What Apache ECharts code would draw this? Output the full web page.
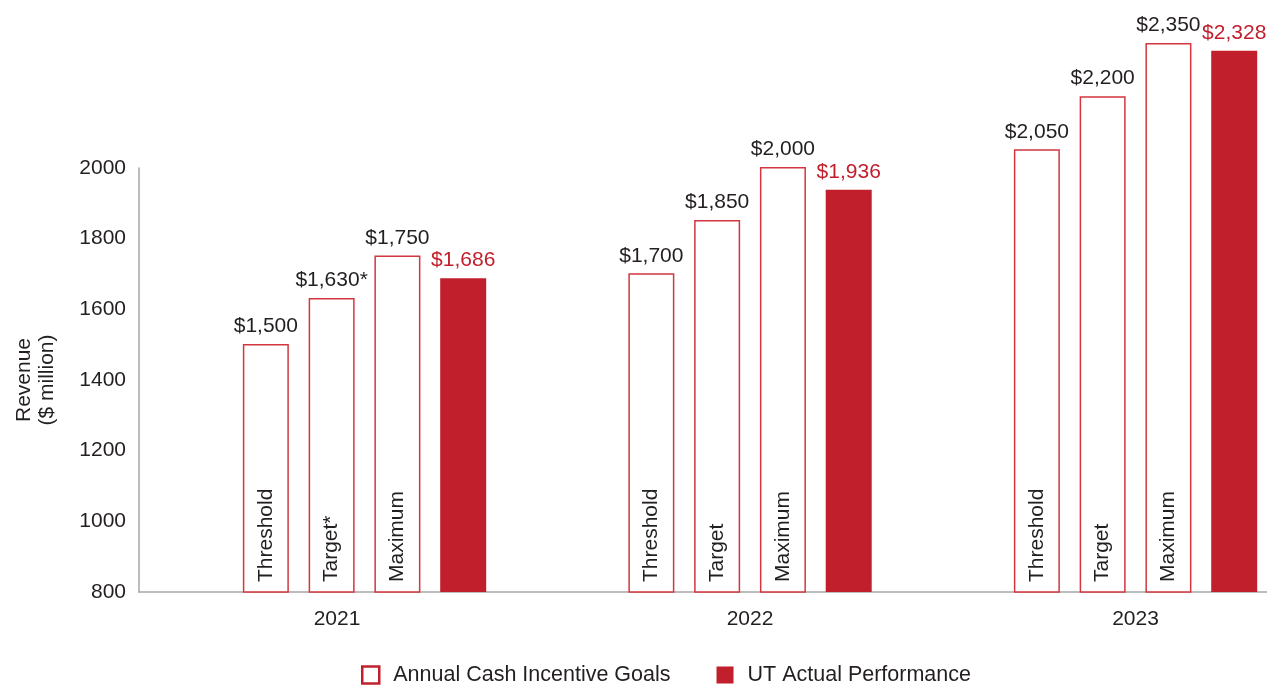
<!DOCTYPE html>
<html>
<head>
<meta charset="utf-8">
<script src="https://cdn.jsdelivr.net/npm/echarts@6/dist/echarts.min.js"></script>
<style>
  html, body { margin: 0; padding: 0; background: #fff; }
  #chart { width: 1267px; height: 685px; }
</style>
</head>
<body>
<div id="chart"></div>
<script>
window.addEventListener("load", () => {
    // data ($ million)
    const years = ['2021', '2022', '2023'];
    const thresholdVals = [1500, 1700, 2050];
    const targetVals = [1630, 1850, 2200];
    const maximumVals = [1750, 2000, 2350];
    const actualVals = [1686, 1936, 2328];
    const targetNotes = ['*', '', ''];          // footnote mark on 2021 target
    const goalNames = ['Threshold', 'Target', 'Maximum'];
    const goalsLegend = 'Annual Cash Incentive Goals';
    const actualLegend = 'UT Actual Performance';
    const yMin = 800, yMax = 2000, yStep = 200, yTop = 2350;

    const RED = '#c11f2b';
    const EDGE = '#d3363f';
    const INK = '#231f20';
    const AXIS = '#a6a6a6';
    const FONT = 'Liberation Sans, Arial, Helvetica, sans-serif';
    const FS = 21;

    // group positions: year i sits at x = i + 1; the x range leaves the
    // 2021 group offset from the y axis like in the source
    const xLo = 0.415, xHi = 3.341;

    const money = v => '$' + v.toLocaleString('en-US');
    const pairs = vals => vals.map((v, i) => [i + 1, v]);

    const barBase = { type: 'bar', barWidth: 46, barGap: '43%' };
    const goalSets = [thresholdVals, targetVals, maximumVals];

    // hollow goal bars with value on top
    let series = goalSets.map((vals, k) => Object.assign({}, barBase, {
        name: goalsLegend,
        xAxisIndex: 1, yAxisIndex: 1,
        data: pairs(vals),
        itemStyle: { color: '#fff', borderColor: EDGE, borderWidth: 1.5 },
        label: {
            show: true, position: 'top', distance: 7,
            fontFamily: FONT, fontSize: FS, color: INK,
            formatter: p => money(p.value[1]) + (k === 1 ? targetNotes[p.dataIndex] : '')
        }
    }));
    series.push(Object.assign({}, barBase, {
        name: actualLegend,
        xAxisIndex: 1, yAxisIndex: 1,
        data: pairs(actualVals),
        itemStyle: { color: RED },
        label: {
            show: true, position: 'top', distance: 7,
            fontFamily: FONT, fontSize: FS, color: RED,
            formatter: p => money(p.value[1])
        }
    }));

    // overlay on a twin axis: rotated names inside the goal bars
    goalSets.forEach((vals, k) => {
        series.push(Object.assign({}, barBase, {
            name: goalNames[k] + '_lbl',
            xAxisIndex: 2, yAxisIndex: 1,
            data: pairs(vals), silent: true,
            itemStyle: { color: 'rgba(0,0,0,0)' },
            label: {
                show: true, position: 'insideBottom', rotate: 90,
                align: 'left', verticalAlign: 'middle', distance: 10,
                fontFamily: FONT, fontSize: FS, color: INK,
                formatter: p => goalNames[k] + (k === 1 ? targetNotes[p.dataIndex] : '')
            }
        }));
    });
    series.push(Object.assign({}, barBase, {
        name: 'spacer', xAxisIndex: 2, yAxisIndex: 1,
        data: pairs(actualVals), silent: true,
        itemStyle: { color: 'rgba(0,0,0,0)' }
    }));

    let option = {
        animation: false,
        backgroundColor: '#fff',
        textStyle: { fontFamily: FONT },
        grid: [
            // visible axes: y only from 800 to 2000
            { left: 139, right: 0, top: 168, bottom: 93 },
            // bars: scale up to 2350
            { left: 139, right: 0, top: 43, bottom: 93 },
            // year labels, ticks on the group centres
            { left: 364.5, right: 131.5, top: 43, bottom: 93 }
        ],
        legend: {
            left: 361, top: 664, padding: 0,
            itemWidth: 17, itemHeight: 17, itemGap: 46,
            icon: 'rect',
            formatter: n => '{t|' + n + '}',
            textStyle: {
                fontFamily: FONT, fontSize: 21.5, color: INK,
                rich: { t: { fontFamily: FONT, fontSize: 21.5, color: INK, padding: [0, 0, 0, 9] } }
            },
            data: [
                { name: goalsLegend, itemStyle: { color: '#fff', borderColor: RED, borderWidth: 2.5 } },
                { name: actualLegend, itemStyle: { color: RED, borderWidth: 0 } }
            ]
        },
        xAxis: [
            {
                type: 'category', gridIndex: 0, data: years,
                axisLine: { lineStyle: { color: AXIS, width: 1.5 } },
                axisTick: { show: false }, axisLabel: { show: false }
            },
            { type: 'value', gridIndex: 1, min: xLo, max: xHi, show: false, splitLine: { show: false } },
            { type: 'value', gridIndex: 1, min: xLo, max: xHi, show: false, splitLine: { show: false } },
            {
                type: 'category', gridIndex: 2, data: years, boundaryGap: false,
                axisLine: { show: false }, axisTick: { show: false },
                axisLabel: {
                    margin: 17, fontFamily: FONT, fontSize: FS, color: INK,
                    formatter: (v, i) => i === 0 ? '{a|' + v + '}' : v,
                    rich: { a: { fontFamily: FONT, fontSize: FS, color: INK, padding: [0, 55, 0, 0] } }
                }
            }
        ],
        yAxis: [
            {
                type: 'value', gridIndex: 0,
                min: yMin, max: yMax, interval: yStep,
                name: 'Revenue\n($ million)',
                nameLocation: 'middle', nameRotate: 90, nameGap: 80,
                nameTextStyle: { fontFamily: FONT, fontSize: FS, color: INK, lineHeight: 23 },
                axisLine: { show: true, lineStyle: { color: AXIS, width: 1.5 } },
                axisTick: { show: false },
                splitLine: { show: false },
                axisLabel: { margin: 13, fontFamily: FONT, fontSize: FS, color: INK, formatter: v => String(v) }
            },
            { type: 'value', gridIndex: 1, min: yMin, max: yTop, show: false, splitLine: { show: false } },
            { type: 'value', gridIndex: 2, min: yMin, max: yTop, show: false, splitLine: { show: false } }
        ],
        series: series
    };

    echarts.init(document.getElementById("chart")).setOption(option);
});
</script>
</body>
</html>
